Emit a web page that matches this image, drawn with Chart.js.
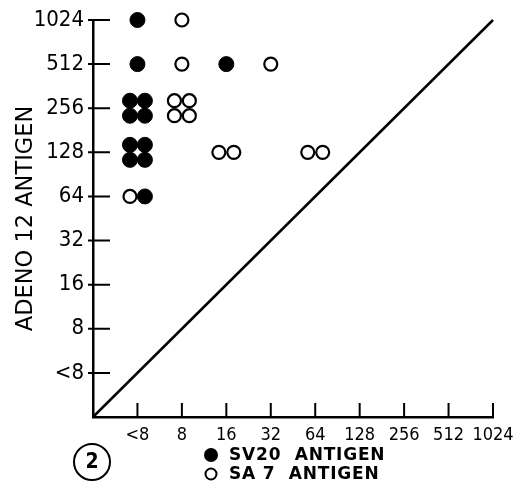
<!DOCTYPE html>
<html>
<head>
<meta charset="utf-8">
<script src="https://cdn.jsdelivr.net/npm/chart.js@4"></script>
<style>
  body { margin: 0; background: #fff; }
  canvas { display: block; }
</style>
</head>
<body>
<canvas id="myChart" width="523" height="485"></canvas>
<script>
// titre categories, index 1..9 on both axes (0 is the origin)
const titreLabels = ['<8', '8', '16', '32', '64', '128', '256', '512', '1024'];

// SV20 antigen (filled) - x titre, y titre (adeno 12)
const sv20X = ['<8', '<8', '16', '<8', '<8', '<8', '<8', '<8', '<8', '<8', '<8', '<8'];
const sv20Y = ['1024', '512', '512', '256', '256', '256', '256', '128', '128', '128', '128', '64'];

// SA7 antigen (open)
const sa7X = ['8', '8', '32', '8', '8', '8', '8', '16', '16', '64', '64', '<8'];
const sa7Y = ['1024', '512', '512', '256', '256', '256', '256', '128', '128', '128', '128', '64'];

const idx = l => titreLabels.indexOf(l) + 1;

// spread points that share the same cell so they sit side by side
const groups = {};
function addPoints(xs, ys, series) {
  xs.forEach((x, i) => {
    const key = x + '|' + ys[i];
    (groups[key] = groups[key] || []).push({ series, x: idx(x), y: idx(ys[i]) });
  });
}
addPoints(sa7X, sa7Y, 'sa7');
addPoints(sv20X, sv20Y, 'sv20');

const dx = 0.168, dy = 0.17;
const pts = { sv20: [], sa7: [] };
Object.values(groups).forEach(g => {
  g.forEach((p, i) => {
    let ox = 0, oy = 0;
    if (g.length === 2) ox = i === 0 ? -dx : dx;
    if (g.length === 4) { ox = i % 2 ? dx : -dx; oy = i < 2 ? dy : -dy; }
    pts[p.series].push({ x: p.x + ox, y: p.y + oy });
  });
});

const font = '"DejaVu Sans Condensed", "DejaVu Sans"';
const wide = '"DejaVu Sans"';

const decor = {
  id: 'decor',
  afterDraw(chart) {
    const ctx = chart.ctx;
    const xs = chart.scales.x, ys = chart.scales.y;
    const x0 = xs.getPixelForValue(0), y0 = ys.getPixelForValue(0);
    ctx.save();
    ctx.strokeStyle = '#000';
    ctx.lineWidth = 2;
    ctx.beginPath();
    for (let i = 1; i <= 9; i++) {
      const py = ys.getPixelForValue(i);
      ctx.moveTo(x0 - 5, py); ctx.lineTo(x0 + 17, py);
      const px = xs.getPixelForValue(i);
      ctx.moveTo(px, y0); ctx.lineTo(px, y0 - 14);
    }
    ctx.stroke();

    // figure number
    ctx.lineWidth = 2;
    ctx.beginPath();
    ctx.arc(92, 462, 18, 0, Math.PI * 2);
    ctx.stroke();
    ctx.fillStyle = '#000';
    ctx.font = 'bold 21px ' + font;
    ctx.textAlign = 'center';
    ctx.textBaseline = 'middle';
    ctx.fillText('2', 92, 463);

    // legend
    ctx.beginPath();
    ctx.arc(211, 455, 7, 0, Math.PI * 2);
    ctx.fill();
    ctx.beginPath();
    ctx.arc(211, 474, 5.5, 0, Math.PI * 2);
    ctx.stroke();
    ctx.textAlign = 'left';
    ctx.font = 'bold 17px ' + wide;
    ctx.letterSpacing = '0.8px';
    ctx.fillText('SV20  ANTIGEN', 229, 456);
    ctx.fillText('SA 7  ANTIGEN', 229, 475);
    ctx.restore();
  }
};

const axisTicks = {
  color: '#000',
  stepSize: 1,
  autoSkip: false,
  callback: v => (v >= 1 && v <= 9 ? titreLabels[v - 1] : '')
};

const config = {
  type: 'scatter',
  data: {
    datasets: [
      {
        label: 'line',
        data: [{ x: 0, y: 0 }, { x: 9, y: 9 }],
        showLine: true,
        borderColor: '#000',
        borderWidth: 2.5,
        pointRadius: 0,
        clip: false
      },
      {
        label: 'SV20 ANTIGEN',
        data: pts.sv20,
        backgroundColor: '#000',
        borderColor: '#000',
        borderWidth: 1,
        pointRadius: 7.5,
        clip: false
      },
      {
        label: 'SA7 ANTIGEN',
        data: pts.sa7,
        backgroundColor: '#fff',
        borderColor: '#000',
        borderWidth: 2.2,
        pointRadius: 6.5,
        clip: false
      }
    ]
  },
  options: {
    responsive: false,
    animation: false,
    layout: { padding: { left: 0, right: 30, top: 20, bottom: 0 } },
    plugins: { legend: { display: false }, tooltip: { enabled: false } },
    scales: {
      x: {
        type: 'linear', min: 0, max: 9,
        afterFit: s => { s.height = 68; },
        grid: { display: false },
        border: { display: true, color: '#000', width: 2.5 },
        ticks: Object.assign({}, axisTicks, {
          padding: 0, maxRotation: 0,
          font: { family: font, size: 18 }
        })
      },
      y: {
        type: 'linear', min: 0, max: 9,
        afterFit: s => { s.width = 93; },
        grid: { display: false },
        border: { display: true, color: '#000', width: 2.5 },
        title: {
          display: true, text: 'ADENO 12 ANTIGEN', color: '#000',
          font: { family: wide, size: 22.5 }, padding: { top: 13, bottom: 0 }
        },
        ticks: Object.assign({}, axisTicks, {
          padding: 1,
          font: { family: font, size: 22 }
        })
      }
    }
  },
  plugins: [decor]
};

var myChart = new Chart(document.getElementById('myChart'), config);
</script>
</body>
</html>
